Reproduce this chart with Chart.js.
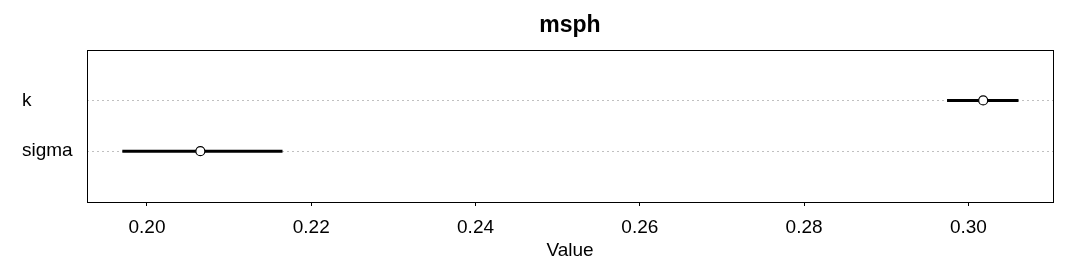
<!DOCTYPE html>
<html>
<head>
<meta charset="utf-8">
<script src="https://cdn.jsdelivr.net/npm/chart.js@4/dist/chart.umd.min.js"></script>
<style>
  body { margin: 0; background: #fff; }
  #wrap { width: 1080px; height: 264px; }
</style>
</head>
<body>
<div id="wrap"><canvas id="c" width="1080" height="264"></canvas></div>
<script>
// rows, top to bottom
const params = ['k', 'sigma'];
const medians = [0.3018, 0.2065];
const lower = [0.2974, 0.1970];
const upper = [0.3061, 0.2165];
const xTicks = [0.20, 0.22, 0.24, 0.26, 0.28, 0.30];

const FONT = "'Liberation Sans', Arial, sans-serif";

// y position of each row: first row on top
const rowY = params.map((p, i) => params.length - i);

const intervalSets = params.map((p, i) => ({
  type: 'line',
  label: p,
  data: [{x: lower[i], y: rowY[i]}, {x: upper[i], y: rowY[i]}],
  borderColor: '#000',
  borderWidth: 3,
  borderCapStyle: 'butt',
  pointRadius: 0,
  order: 2
}));

const pointSet = {
  type: 'line',
  label: 'median',
  data: params.map((p, i) => ({x: medians[i], y: rowY[i]})),
  showLine: false,
  pointRadius: 4.5,
  pointBackgroundColor: '#fff',
  pointBorderColor: '#000',
  pointBorderWidth: 1.2,
  order: 1
};

// box around the plot region, like R's box()
const frame = {
  id: 'frame',
  afterDatasetsDraw(chart) {
    const a = chart.chartArea;
    const g = chart.ctx;
    g.save();
    g.strokeStyle = '#000';
    g.lineWidth = 1;
    g.strokeRect(Math.round(a.left) + 0.5, Math.round(a.top) + 0.5,
      Math.round(a.right - a.left), Math.round(a.bottom - a.top));
    g.restore();
  }
};

new Chart(document.getElementById('c'), {
  type: 'line',
  data: { datasets: [pointSet, ...intervalSets] },
  options: {
    responsive: false,
    animation: false,
    layout: { padding: { left: 22, right: 27, top: 0, bottom: 0 } },
    plugins: {
      legend: { display: false },
      tooltip: { enabled: false },
      title: {
        display: true,
        fullSize: false,
        text: 'msph',
        color: '#000',
        font: { family: FONT, size: 23, weight: 'bold' },
        padding: { top: 12, bottom: 10 }
      }
    },
    scales: {
      x: {
        type: 'linear',
        min: 0.1927,
        max: 0.3103,
        afterBuildTicks: s => { s.ticks = xTicks.map(v => ({value: v})); },
        afterFit: s => { s.height = 62; },
        border: { display: false },
        grid: { display: true, drawOnChartArea: false, color: '#000', tickLength: 4 },
        ticks: {
          color: '#000',
          padding: 10,
          maxRotation: 0,
          font: { family: FONT, size: 19 },
          callback: v => v.toFixed(2)
        },
        title: {
          display: true,
          text: 'Value',
          color: '#000',
          font: { family: FONT, size: 19 },
          padding: { top: 0, bottom: 2 }
        }
      },
      y: {
        type: 'linear',
        min: 0,
        max: params.length + 1,
        afterBuildTicks: s => { s.ticks = rowY.map(v => ({value: v})); },
        afterFit: s => { s.width = 65; },
        border: { display: false, dash: [2, 3] },
        grid: {
          color: '#c0c0c0',
          lineWidth: 1,
          drawTicks: false,
          tickLength: 0
        },
        ticks: {
          color: '#000',
          crossAlign: 'far',
          font: { family: FONT, size: 19 },
          callback: v => params[params.length - v] || ''
        }
      }
    }
  },
  plugins: [frame]
});
</script>
</body>
</html>
